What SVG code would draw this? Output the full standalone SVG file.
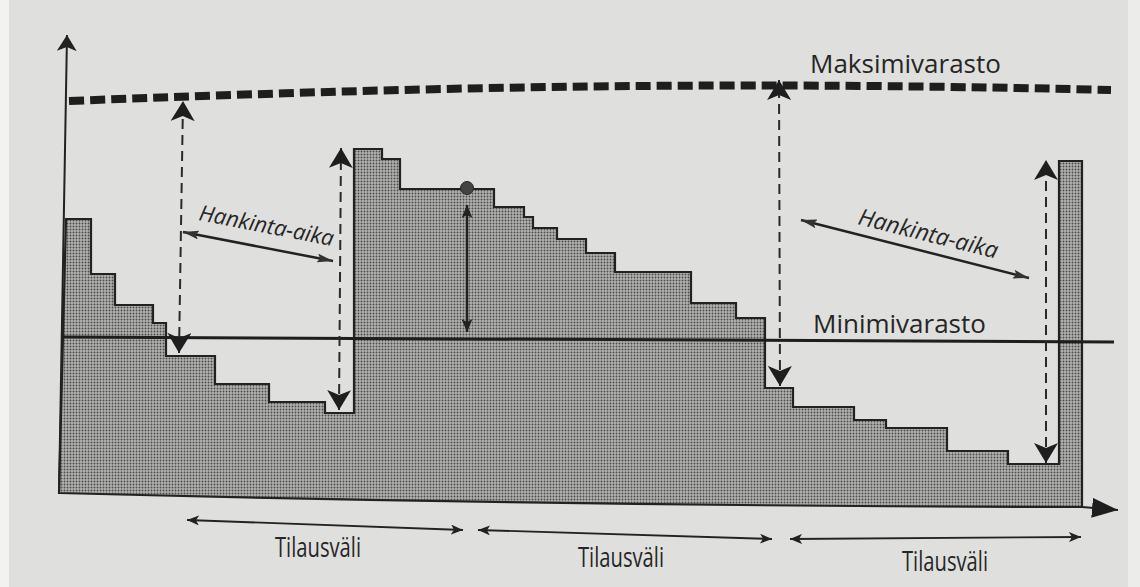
<svg xmlns="http://www.w3.org/2000/svg" width="1140" height="587" viewBox="0 0 1140 587">
  <style>
    .lbl { font-family: "Open Sans", "Noto Sans", "DejaVu Sans", sans-serif; fill: #262626; }
    .ink { stroke: #222; fill: none; }
    .dash { stroke: #2a2a2a; stroke-width: 2; stroke-dasharray: 10 6; fill: none; }
  </style>
  <defs>
    <pattern id="stipple" width="3" height="3" patternUnits="userSpaceOnUse">
      <rect width="3" height="3" fill="#b2b2b0"/>
      <circle cx="1.5" cy="1.5" r="0.95" fill="#4c4c4c"/>
    </pattern>
    <!-- dart-shaped heads of several sizes -->
    <marker id="big" viewBox="0 0 20 24" refX="20" refY="12" markerWidth="20" markerHeight="24" markerUnits="userSpaceOnUse" orient="auto-start-reverse">
      <path d="M0,0 L20,12 L0,24 L5,12 Z" fill="#1e1e1e"/>
    </marker>
    <marker id="axis" viewBox="0 0 16 20" refX="16" refY="10" markerWidth="16" markerHeight="20" markerUnits="userSpaceOnUse" orient="auto-start-reverse">
      <path d="M0,0 L16,10 L0,20 L4,10 Z" fill="#222"/>
    </marker>
    <marker id="xaxis" viewBox="0 0 26 20" refX="26" refY="10" markerWidth="26" markerHeight="20" markerUnits="userSpaceOnUse" orient="auto">
      <path d="M0,0 L26,10 L0,20 Z" fill="#1e1e1e"/>
    </marker>
    <marker id="mid" viewBox="0 0 13 11" refX="13" refY="5.5" markerWidth="13" markerHeight="11" markerUnits="userSpaceOnUse" orient="auto-start-reverse">
      <path d="M0,0 L13,5.5 L0,11 L3,5.5 Z" fill="#222"/>
    </marker>
    <marker id="slim" viewBox="0 0 16 9" refX="16" refY="4.5" markerWidth="16" markerHeight="9" markerUnits="userSpaceOnUse" orient="auto-start-reverse">
      <path d="M0,0 L16,4.5 L0,9 L3,4.5 Z" fill="#333"/>
    </marker>
    <marker id="small" viewBox="0 0 12 10" refX="12" refY="5" markerWidth="12" markerHeight="10" markerUnits="userSpaceOnUse" orient="auto-start-reverse">
      <path d="M0,0 L12,5 L0,10 L3,5 Z" fill="#222"/>
    </marker>
  </defs>

  <rect width="1140" height="587" fill="#dfdfdd"/>
  <rect x="0" y="0" width="9" height="587" fill="#f2f2f0"/>
  <rect x="1128" y="0" width="12" height="587" fill="#ececea"/>

  <!-- stock level over time -->
  <g id="stock">
    <path d="M66,219 H91 V274 H115 V305 H153 V323 H166 V356 H215 V384 H269 V402 H325 V413 H354 V149 H382 V159 H400 V189 H494 V207 H524 V217 H533 V228 H557 V239 H586 V253 H615 V272 H691 V303 H736 V318 H765 V388 H793 V407 H854 V420 H886 V428 H947 V451 H1008 V464 H1059 V161 H1082 V507 Q560,506 59,493 Z" fill="url(#stipple)" stroke="#222" stroke-width="2.2" stroke-linejoin="miter"/>
  </g>

  <!-- axes -->
  <g id="axes">
    <line class="ink" x1="59" y1="493" x2="67" y2="35" stroke-width="2" marker-end="url(#axis)"/>
    <path class="ink" d="M1082,507 L1118,510" stroke-width="2" marker-end="url(#xaxis)"/>
  </g>

  <!-- maximum and minimum stock levels -->
  <g id="max-level">
    <path d="M69,101 C400,88 700,80 1111,90" stroke="#1e1e1e" stroke-width="8" stroke-dasharray="15 6" fill="none"/>
    <text class="lbl" x="810" y="73" font-size="26">Maksimivarasto</text>
  </g>
  <g id="min-level">
    <line x1="62" y1="337" x2="1114" y2="342" stroke="#1e1e1e" stroke-width="3"/>
    <text class="lbl" x="813" y="333" font-size="26">Minimivarasto</text>
  </g>

  <!-- order point marker -->
  <g id="order-point">
    <circle cx="467" cy="188" r="6.5" fill="#444" stroke="#2a2a2a" stroke-width="1"/>
  </g>

  <g id="connectors">
    <!-- refill spans -->
    <line class="dash" x1="179" y1="353" x2="183" y2="101" marker-start="url(#big)" marker-end="url(#big)"/>
    <line class="dash" x1="339" y1="410" x2="341" y2="148" marker-start="url(#big)" marker-end="url(#big)"/>
    <line class="dash" x1="780" y1="386" x2="779" y2="80" marker-start="url(#big)" marker-end="url(#big)"/>
    <line class="dash" x1="1046" y1="463" x2="1046" y2="160" marker-start="url(#big)" marker-end="url(#big)"/>
    <!-- safety margin -->
    <line class="ink" x1="467" y1="205" x2="467" y2="332" stroke-width="2.5" marker-start="url(#mid)" marker-end="url(#mid)"/>
    <!-- lead times -->
    <line class="ink" x1="183" y1="232" x2="333" y2="261" stroke-width="2.5" marker-start="url(#slim)" marker-end="url(#slim)"/>
    <line class="ink" x1="801" y1="220" x2="1029" y2="278" stroke-width="2.5" marker-start="url(#slim)" marker-end="url(#slim)"/>
    <!-- order intervals -->
    <line class="ink" x1="187" y1="520" x2="463" y2="530" stroke-width="1.8" marker-start="url(#small)" marker-end="url(#small)"/>
    <line class="ink" x1="478" y1="530" x2="772" y2="539" stroke-width="1.8" marker-start="url(#small)" marker-end="url(#small)"/>
    <line class="ink" x1="790" y1="539" x2="1081" y2="537" stroke-width="1.8" marker-start="url(#small)" marker-end="url(#small)"/>
  </g>

  <g id="lead-time-left">
    <text class="lbl" font-size="22" font-style="italic" transform="translate(198,220) rotate(11)">Hankinta-aika</text>
  </g>
  <g id="lead-time-right">
    <text class="lbl" font-size="23" font-style="italic" transform="translate(857,224) rotate(14)">Hankinta-aika</text>
  </g>

  <g id="interval-1">
    <text class="lbl" x="275" y="557" font-size="28" textLength="86" lengthAdjust="spacingAndGlyphs">Tilausväli</text>
  </g>
  <g id="interval-2">
    <text class="lbl" x="578" y="567" font-size="28" textLength="86" lengthAdjust="spacingAndGlyphs">Tilausväli</text>
  </g>
  <g id="interval-3">
    <text class="lbl" x="902" y="571" font-size="28" textLength="86" lengthAdjust="spacingAndGlyphs">Tilausväli</text>
  </g>
</svg>
